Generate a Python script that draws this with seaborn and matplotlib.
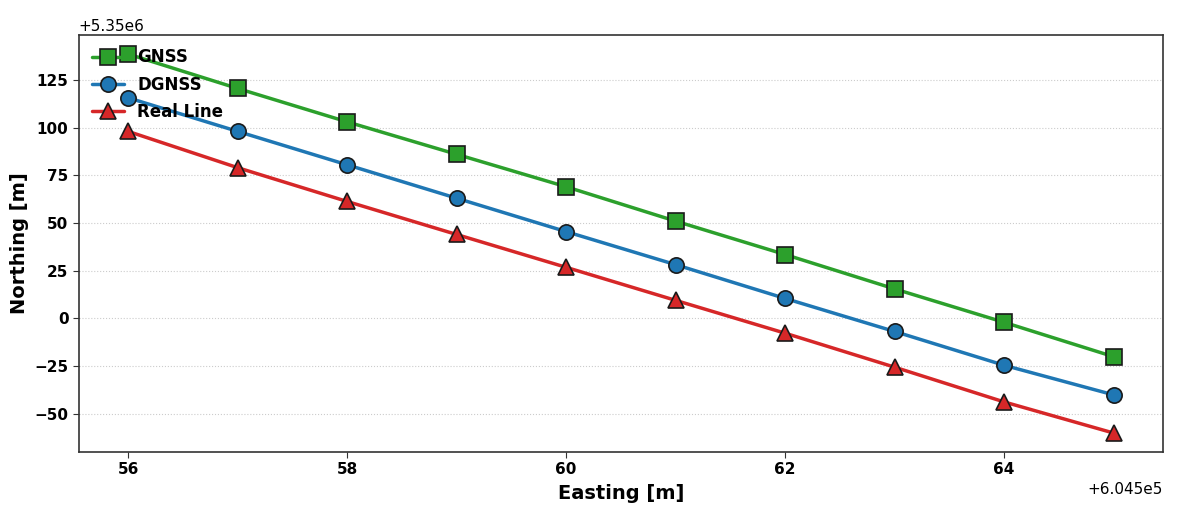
import matplotlib
matplotlib.use("Agg")
import matplotlib.pyplot as plt
import pandas as pd
import seaborn as sns

easting = [604556, 604557, 604558, 604559, 604560, 604561, 604562, 604563, 604564, 604565]
gnss = [5350138.5, 5350120.5, 5350103.0, 5350086.0, 5350069.0, 5350051.0, 5350033.5, 5350015.5, 5349998.0, 5349980.0]
dgnss = [5350115.6, 5350098.0, 5350080.5, 5350063.0, 5350045.5, 5350028.2, 5350010.5, 5349993.2, 5349975.5, 5349960.0]
real_line = [5350098.0, 5350079.0, 5350061.3, 5350044.0, 5350026.8, 5350009.5, 5349992.3, 5349974.5, 5349956.3, 5349940.0]

series_names = ["GNSS", "DGNSS", "Real Line"]
colors = {"GNSS": "#2ca02c", "DGNSS": "#1f77b4", "Real Line": "#d62728"}
marker_map = {"GNSS": "s", "DGNSS": "o", "Real Line": "^"}

df = pd.concat([
    pd.DataFrame({"Easting": easting, "Northing": vals, "Series": name})
    for name, vals in zip(series_names, [gnss, dgnss, real_line])
])

sns.set_style("white")
plt.rcParams["font.family"] = ["DejaVu Sans"]
plt.rcParams["text.color"] = "black"
plt.rcParams["axes.labelcolor"] = "black"
plt.rcParams["xtick.color"] = "black"
plt.rcParams["ytick.color"] = "black"

fig, ax = plt.subplots(figsize=(11.77, 5.09), dpi=100)
sns.lineplot(
    data=df, x="Easting", y="Northing", hue="Series", style="Series",
    hue_order=series_names, style_order=series_names,
    palette=colors, markers=marker_map, dashes=False,
    markersize=11, markeredgecolor="#1a1a1a", markeredgewidth=1.2,
    linewidth=2.5, ax=ax,
)

handles, labels = ax.get_legend_handles_labels()
ax.legend(handles, labels, loc="upper left", frameon=False,
          prop={"weight": "bold", "size": 12}, borderaxespad=0.4,
          handletextpad=0.8, labelspacing=0.55, handlelength=1.9)

ax.grid(axis="y", linestyle=":", color="#cccccc", linewidth=0.8)
ax.grid(axis="x", visible=False)
for sp in ax.spines.values():
    sp.set_color("#333333")
    sp.set_linewidth(1.2)

ax.set_xlabel("Easting [m]", fontsize=14, fontweight="bold", labelpad=5)
ax.set_ylabel("Northing [m]", fontsize=14, fontweight="bold")
ax.tick_params(axis="both", labelsize=11, length=4, color="#333333", left=True, bottom=True)
for lbl in ax.get_xticklabels() + ax.get_yticklabels():
    lbl.set_fontweight("bold")
ax.yaxis.get_offset_text().set_fontsize(11)
ax.xaxis.get_offset_text().set_fontsize(11)

fig.subplots_adjust(left=0.067, right=0.988, top=0.931, bottom=0.112)
fig.savefig("out.png", dpi=100)
plt.close(fig)
